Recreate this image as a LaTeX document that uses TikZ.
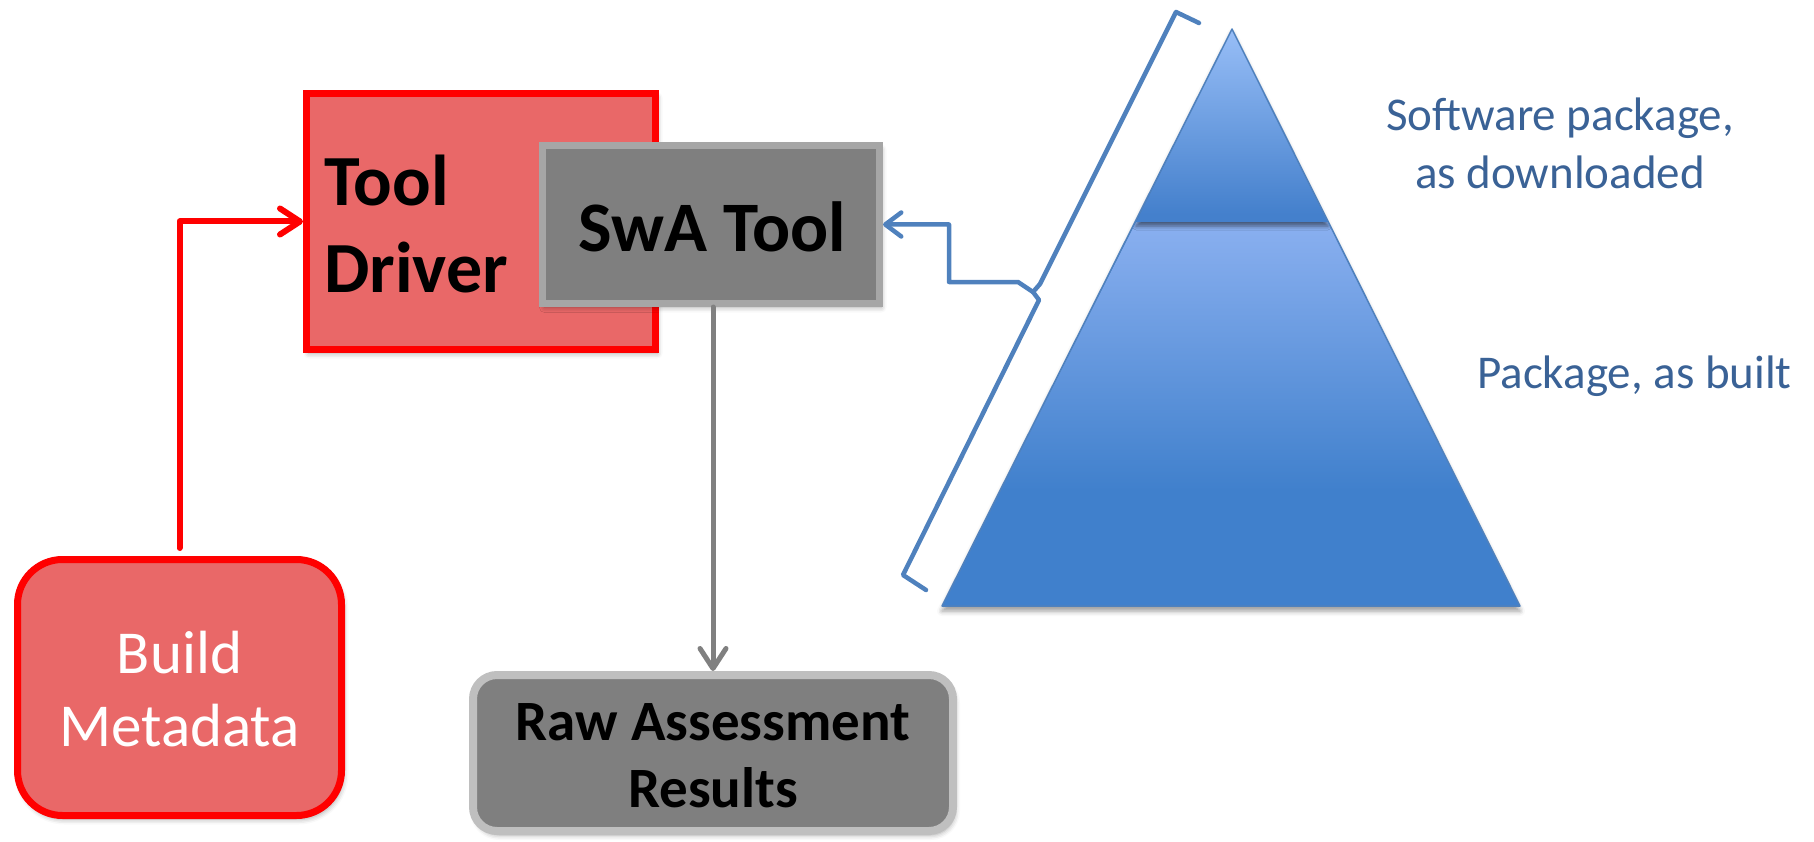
\documentclass[tikz,border=0pt]{standalone}
\usepackage{fontspec}
\setmainfont{Carlito}
\usetikzlibrary{arrows.meta,shadows.blur}

\definecolor{boxred}{RGB}{233,104,104}
\definecolor{edgered}{RGB}{255,0,0}
\definecolor{boxgray}{RGB}{127,127,127}
\definecolor{edgegray}{RGB}{166,166,166}
\definecolor{edgegraylight}{RGB}{191,191,191}
\definecolor{arrowgray}{RGB}{128,128,128}
\definecolor{linkblue}{RGB}{79,129,189}
\definecolor{labelblue}{RGB}{58,98,150}
\definecolor{pyrtop}{RGB}{152,190,247}
\definecolor{pyrmid}{RGB}{68,128,204}
\definecolor{pyrband}{RGB}{138,176,240}
\definecolor{pyrbase}{RGB}{64,128,204}

% vertical colour ramps for the two parts of the pyramid
% (the path's bounding box spans 25bp..75bp of the shading)
\pgfdeclareverticalshading{cappiece}{100bp}{color(0bp)=(pyrmid); color(27bp)=(pyrmid); color(75bp)=(pyrtop); color(100bp)=(pyrtop)}
\pgfdeclareverticalshading{basepiece}{100bp}{color(0bp)=(pyrbase); color(40bp)=(pyrbase); color(75bp)=(pyrband); color(100bp)=(pyrband)}

\tikzset{
  boxshadow/.style={blur shadow={shadow xshift=2pt,shadow yshift=-4pt,shadow blur radius=5pt,shadow opacity=35}},
  redbox/.style={draw=edgered, fill=boxred, line width=7pt, inner sep=0pt, boxshadow},
  graybox/.style={draw=edgegray, fill=boxgray, line width=7pt, inner sep=0pt, boxshadow},
  boldlabel/.style={inner sep=0pt, text=black, font=\bfseries\fontsize{#1}{#1}\selectfont},
  plainlabel/.style={inner sep=0pt, font=\fontsize{#1}{#1}\selectfont},
  redlink/.style={draw=edgered, line width=6pt, line cap=round, line join=round,
    -{Straight Barb[length=20pt,width=26pt,round]}},
  graylink/.style={draw=arrowgray, line width=5pt, line cap=round,
    -{Straight Barb[length=20pt,width=26pt,round]}},
  bluelink/.style={draw=linkblue, line width=4.5pt, line cap=round, line join=round,
    -{Straight Barb[length=16pt,width=24pt,round]}},
  bluebracket/.style={draw=linkblue, line width=4.5pt, line cap=round, line join=round},
}

\begin{document}
\begin{tikzpicture}[x=1pt,y=-1pt]
\useasboundingbox (0,0) rectangle (1814,842);

% ---- pyramid ----
\path[fill=pyrbase, blur shadow={shadow xshift=0pt,shadow yshift=-5pt,shadow blur radius=5pt,shadow opacity=40}]
  (1232,29) -- (942,606) -- (1520,606) -- cycle;
\shade[shading=basepiece] (1136,222) -- (942,606) -- (1520,606) -- (1328,222) -- cycle;
\begin{scope}
  \clip (1232,29) -- (942,606) -- (1520,606) -- cycle;
  \shade[shading=cappiece, blur shadow={shadow xshift=0pt,shadow yshift=-4pt,shadow blur radius=4pt,shadow opacity=50}]
    (1232,29) -- (1136,222) -- (1328,222) -- cycle;
\end{scope}
\draw[linkblue, line width=1.5pt, line join=round] (1232,29) -- (942,606) -- (1520,606) -- cycle;

% ---- boxes ----
\node[redbox, minimum width=349pt, minimum height=256pt] (driver) at (481,221.5) {};
\node[graybox, minimum width=337pt, minimum height=158pt] (swa) at (711,224.5) {};
\node[redbox, rounded corners=45pt, minimum width=324pt, minimum height=256pt] (meta) at (179.5,687.5) {};
\node[graybox, draw=edgegraylight, line width=8pt, rounded corners=24pt,
      minimum width=480pt, minimum height=156pt] (raw) at (713,753) {};

% ---- box texts ----
\node[boldlabel=72, anchor=base west] (tooltxt) at (324,206) {Tool};
\node[boldlabel=72, anchor=base west] (drivertxt) at (324,292) {Driver};
\node[boldlabel=71, anchor=base] (swatxt) at (712,252) {SwA Tool};
\node[plainlabel=61, text=white, anchor=base] (buildtxt) at (179.5,673) {Build};
\node[plainlabel=61, text=white, anchor=base] (metatxt) at (179.5,746) {Metadata};
\node[boldlabel=57, anchor=base] (rawtxt) at (713,740) {Raw Assessment};
\node[boldlabel=57, anchor=base] (restxt) at (713,807) {Results};

% ---- pyramid labels ----
\node[plainlabel=47, text=labelblue, anchor=base] (dl1) at (1560,131) {Software package,};
\node[plainlabel=47, text=labelblue, anchor=base] (dl2) at (1560,189) {as downloaded};
\node[plainlabel=47, text=labelblue, anchor=base west] (built) at (1477,388) {Package, as built};

% ---- bracket along the pyramid side ----
\coordinate (tip) at (1033,292);
\draw[bluebracket] (1199,23) -- (1176,12) -- (1040,284) -- (tip) -- (1039,300) -- (903,575) -- (926,590);

% ---- connectors ----
\draw[redlink, shorten <=8pt] (meta.north) |- (driver.west);
\draw[graylink] (swa.south -| raw.north) -- (raw.north);
\draw[bluelink] (tip) -- (1018,282) -- (949,282) |- (swa.east);
\end{tikzpicture}
\end{document}
